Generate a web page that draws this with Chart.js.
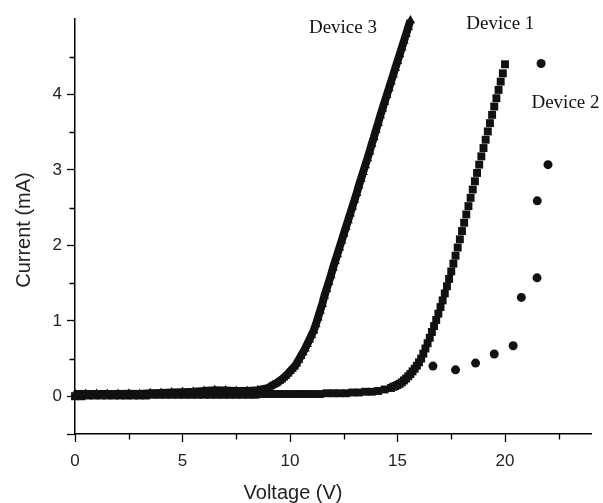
<!DOCTYPE html>
<html>
<head>
<meta charset="utf-8">
<script src="https://cdn.jsdelivr.net/npm/chart.js@4.4.1/dist/chart.umd.min.js"></script>
<style>
  html, body { margin: 0; padding: 0; background: #fff; }
</style>
</head>
<body>
<canvas id="chart" width="603" height="503"></canvas>
<script>
// Device 1 (squares)
const d1Voltage = [0, 0.3, 0.6, 0.9, 1.2, 1.5, 1.8, 2.1, 2.4, 2.7, 3.0, 3.3, 3.6, 3.9, 4.2, 4.5, 4.8, 5.1, 5.4, 5.7,
  6.0, 6.3, 6.6, 6.9, 7.2, 7.5, 7.8, 8.1, 8.4, 8.7, 9.0, 9.3, 9.6, 9.9, 10.2, 10.5, 10.8, 11.1, 11.4, 11.7,
  12.0, 12.3, 12.6, 12.9, 13.2, 13.5, 13.8, 14.1, 14.4, 14.7,
  14.8, 14.9, 15.0, 15.1, 15.2, 15.3, 15.4, 15.5, 15.6, 15.7, 15.8, 15.9, 16.0, 16.1, 16.2, 16.3, 16.4, 16.5,
  16.6, 16.7, 16.8, 16.9, 17.0, 17.1, 17.2, 17.3, 17.4, 17.5, 17.6, 17.7, 17.8, 17.9, 18.0, 18.1, 18.2, 18.3,
  18.4, 18.5, 18.6, 18.7, 18.8, 18.9, 19.0, 19.1, 19.2, 19.3, 19.4, 19.5, 19.6, 19.7, 19.8, 19.9, 20.0];
const d1Current = [0.00, 0.00, 0.01, 0.01, 0.01, 0.01, 0.01, 0.01, 0.01, 0.01, 0.01, 0.01, 0.02, 0.02, 0.02, 0.02, 0.02, 0.02, 0.02, 0.02,
  0.02, 0.02, 0.02, 0.02, 0.02, 0.02, 0.02, 0.02, 0.02, 0.03, 0.03, 0.03, 0.03, 0.03, 0.03, 0.03, 0.03, 0.03, 0.03, 0.04,
  0.04, 0.04, 0.04, 0.05, 0.05, 0.06, 0.06, 0.07, 0.09, 0.11,
  0.125, 0.135, 0.15, 0.165, 0.185, 0.21, 0.235, 0.265, 0.295, 0.33, 0.365, 0.405, 0.45, 0.50, 0.565, 0.633, 0.703, 0.776,
  0.852, 0.93, 1.011, 1.095, 1.182, 1.271, 1.363, 1.458, 1.555, 1.655, 1.758, 1.863, 1.971, 2.08, 2.19, 2.30, 2.41, 2.52,
  2.63, 2.74, 2.85, 2.96, 3.07, 3.18, 3.29, 3.40, 3.51, 3.62, 3.73, 3.84, 3.95, 4.06, 4.17, 4.28, 4.40];

// Device 2 (circles)
const d2Voltage = [16.65, 17.70, 18.63, 19.50, 20.38, 20.76, 21.49, 21.50, 22.00, 21.68];
const d2Current = [0.40, 0.35, 0.44, 0.56, 0.67, 1.31, 1.57, 2.59, 3.07, 4.41];

// Device 3 (triangles)
const d3Voltage = [0, 0.5, 1.0, 1.5, 2.0, 2.5, 3.0, 3.5, 4.0, 4.5, 5.0, 5.5, 6.0, 6.5, 7.0, 7.5, 8.0, 8.5,
  9.0, 9.1, 9.2, 9.3, 9.4, 9.5, 9.6, 9.7, 9.8, 9.9, 10.0, 10.1, 10.2, 10.3, 10.4, 10.5, 10.6, 10.7, 10.8, 10.9,
  11.0, 11.1, 11.2, 11.3, 11.4, 11.5, 11.6, 11.7, 11.8, 11.9, 12.0, 12.1, 12.2, 12.3, 12.4, 12.5, 12.6, 12.7,
  12.8, 12.9, 13.0, 13.1, 13.2, 13.3, 13.4, 13.5, 13.6, 13.7, 13.8, 13.9, 14.0, 14.1, 14.2, 14.3, 14.4, 14.5,
  14.6, 14.7, 14.8, 14.9, 15.0, 15.1, 15.2, 15.3, 15.4, 15.5, 15.6];
const d3Current = [0.03, 0.03, 0.03, 0.03, 0.03, 0.035, 0.03, 0.04, 0.045, 0.05, 0.055, 0.06, 0.07, 0.08, 0.075, 0.07, 0.07, 0.08,
  0.11, 0.13, 0.145, 0.16, 0.18, 0.20, 0.22, 0.245, 0.27, 0.30, 0.33, 0.36, 0.39, 0.43, 0.48, 0.53, 0.58, 0.63, 0.69, 0.75,
  0.81, 0.87, 0.95, 1.04, 1.13, 1.22, 1.33, 1.42, 1.51, 1.60, 1.70, 1.79, 1.88, 1.97, 2.06, 2.15, 2.24, 2.33,
  2.42, 2.51, 2.60, 2.69, 2.79, 2.88, 2.97, 3.06, 3.15, 3.24, 3.34, 3.43, 3.53, 3.62, 3.72, 3.81, 3.90, 3.99,
  4.08, 4.17, 4.26, 4.35, 4.44, 4.53, 4.62, 4.71, 4.80, 4.89, 4.98];

const xMajorTicks = [0, 5, 10, 15, 20];
const xMinorTicks = [2.5, 7.5, 12.5, 17.5, 22.5];
const yMajorTicks = [-0.5, 0, 1, 2, 3, 4];
const yMinorTicks = [0.5, 1.5, 2.5, 3.5, 4.5];
const yTickLabels = [0, 1, 2, 3, 4];

// curve labels: [text, voltage, current] (left edge / baseline)
const curveLabels = [
  ['Device 3', 10.88, 4.82],
  ['Device 1', 18.2, 4.865],
  ['Device 2', 21.23, 3.82]
];

const pairs = (xs, ys) => xs.map((x, i) => ({ x: x, y: ys[i] }));
const ink = '#111';

const extras = {
  id: 'extras',
  afterDraw(chart) {
    const { ctx, chartArea, scales } = chart;
    ctx.save();
    // minor ticks
    ctx.strokeStyle = '#000';
    ctx.lineWidth = 1.3;
    ctx.beginPath();
    xMinorTicks.forEach(v => {
      const px = Math.round(scales.x.getPixelForValue(v)) + 0.5;
      ctx.moveTo(px, chartArea.bottom);
      ctx.lineTo(px, chartArea.bottom + 5.5);
    });
    yMinorTicks.forEach(v => {
      const py = Math.round(scales.y.getPixelForValue(v)) + 0.5;
      ctx.moveTo(chartArea.left - 5.5, py);
      ctx.lineTo(chartArea.left, py);
    });
    ctx.stroke();

    // axis titles
    ctx.fillStyle = '#222';
    ctx.font = '20px "Liberation Sans", Arial, sans-serif';
    ctx.textAlign = 'center';
    ctx.textBaseline = 'middle';
    ctx.fillText('Voltage (V)', 293, 493);
    ctx.translate(24, 230);
    ctx.rotate(-Math.PI / 2);
    ctx.fillText('Current (mA)', 0, 0);
    ctx.setTransform(1, 0, 0, 1, 0, 0);

    // curve labels
    ctx.fillStyle = '#111';
    ctx.font = '19px "Liberation Serif", "Times New Roman", serif';
    ctx.textAlign = 'left';
    ctx.textBaseline = 'alphabetic';
    curveLabels.forEach(([t, vx, vy]) => {
      ctx.fillText(t, scales.x.getPixelForValue(vx), scales.y.getPixelForValue(vy));
    });
    ctx.restore();
  }
};

new Chart(document.getElementById('chart'), {
  type: 'scatter',
  data: {
    datasets: [
      {
        label: 'Device 1',
        data: pairs(d1Voltage, d1Current),
        pointStyle: 'rect',
        pointRadius: 5.6,
        pointBorderWidth: 0,
        backgroundColor: ink,
        clip: false
      },
      {
        label: 'Device 2',
        data: pairs(d2Voltage, d2Current),
        pointStyle: 'circle',
        pointRadius: 4.5,
        pointBorderWidth: 0,
        backgroundColor: ink,
        clip: false
      },
      {
        label: 'Device 3',
        data: pairs(d3Voltage, d3Current),
        showLine: true,
        borderColor: ink,
        borderWidth: 8,
        tension: 0,
        pointStyle: 'triangle',
        pointRadius: 5.5,
        pointBorderWidth: 0,
        backgroundColor: ink,
        clip: false
      }
    ]
  },
  options: {
    responsive: false,
    animation: false,
    layout: { padding: { top: 19, right: 12, left: 0, bottom: 0 } },
    plugins: { legend: { display: false }, tooltip: { enabled: false } },
    scales: {
      x: {
        type: 'linear',
        min: 0,
        max: 24,
        afterBuildTicks: s => { s.ticks = xMajorTicks.map(v => ({ value: v })); },
        afterFit: s => { s.height = 69; },
        ticks: {
          autoSkip: false,
          maxRotation: 0,
          padding: 9,
          color: '#222',
          font: { size: 17, family: '"Liberation Sans", Arial, sans-serif' }
        },
        grid: { drawOnChartArea: false, tickLength: 8, tickColor: '#000', tickWidth: 1.3 },
        border: { color: '#000', width: 1.5 }
      },
      y: {
        type: 'linear',
        min: -0.5,
        max: 5,
        afterBuildTicks: s => { s.ticks = yMajorTicks.map(v => ({ value: v })); },
        afterFit: s => { s.width = 75; },
        ticks: {
          autoSkip: false,
          padding: 5,
          color: '#222',
          font: { size: 17, family: '"Liberation Sans", Arial, sans-serif' },
          callback: v => yTickLabels.includes(v) ? String(v) : ''
        },
        grid: { drawOnChartArea: false, tickLength: 8, tickColor: '#000', tickWidth: 1.3 },
        border: { color: '#000', width: 1.5 }
      }
    }
  },
  plugins: [extras]
});
</script>
</body>
</html>
